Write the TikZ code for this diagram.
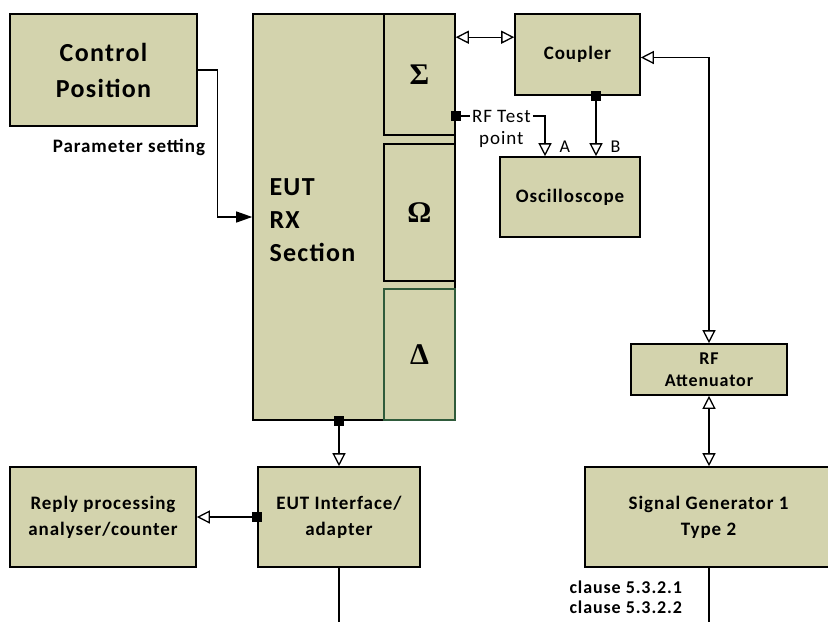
\documentclass[tikz,border=0pt]{standalone}
\usepackage{fontspec}
\setmainfont{Carlito}[LetterSpace=5]
\newfontfamily\symfont{Liberation Serif}
\usetikzlibrary{arrows.meta, positioning}
\definecolor{khaki}{HTML}{D3D3AD}
\definecolor{darkgreen}{HTML}{2F5B3B}

\begin{document}
\begin{tikzpicture}[x=1pt, y=-1pt,
    every node/.style={font=\bfseries\fontsize{19}{26}\selectfont},
    box/.style={rectangle, draw=black, line width=1.6pt, fill=khaki, inner sep=0pt, align=center},
    bigtext/.style={font=\bfseries\fontsize{26}{36}\selectfont},
    symtext/.style={font=\symfont\bfseries\fontsize{30}{32}\selectfont},
    sq/.style={rectangle, fill=black, minimum size=10pt, inner sep=0pt},
    conn/.style={line width=1.3pt},
    open/.style={line width=1.3pt, -{Triangle[open, length=13pt, width=13pt, fill=white]}},
    both/.style={line width=1.3pt, {Triangle[open, length=13pt, width=13pt, fill=white]}-{Triangle[open, length=13pt, width=13pt, fill=white]}},
    plain/.style={font=\fontsize{19}{22}\selectfont},
]
\useasboundingbox (0,0) rectangle (828,622);
% left column
\node[box, bigtext, minimum width=187pt, minimum height=112pt] (ctrl) at (103.5,70) {Control\\Position};
\node[font=\bfseries\fontsize{19}{22}\selectfont] (param) at (129,147) {Parameter setting};
% EUT receiver with its three sub-blocks
\node[box, minimum width=202pt, minimum height=406pt] (eut) at (354,217) {};
\node[anchor=west, align=left, font=\bfseries\fontsize{26}{33}\selectfont] (euttxt) at (266,220) {EUT\\RX\\Section};
\node[box, symtext, minimum width=71pt, minimum height=121pt] (sigma) at (419.5,74.5) {Σ};
\node[box, symtext, minimum width=71pt, minimum height=137pt] (omega) at (419.5,212.5) {Ω};
\node[box, symtext, draw=darkgreen, line width=1.1pt, minimum width=71pt, minimum height=131pt] (delta) at (419.5,354.5) {Δ};
% measurement side
\node[box, minimum width=125pt, minimum height=81pt] (cpl) at (577.5,54.5) {Coupler};
\node[box, minimum width=140pt, minimum height=80pt] (osc) at (570,197) {Oscilloscope};
\node[box, font=\bfseries\fontsize{18}{22}\selectfont, minimum width=156pt, minimum height=51pt] (att) at (709,369.5) {RF\\Attenuator};
\node[box, minimum width=247pt, minimum height=100pt] (sig) at (708.5,517) {Signal Generator 1\\Type 2};
\node[box, minimum width=162pt, minimum height=100pt] (ifc) at (339,517) {EUT Interface/\\adapter};
\node[box, minimum width=186pt, minimum height=100pt] (rep) at (103,517) {Reply processing\\analyser/counter};
\node[anchor=west, align=left, font=\bfseries\fontsize{18}{20}\selectfont] (clause) at (566,597) {clause 5.3.2.1\\clause 5.3.2.2};

% connectors
\draw[conn, -{Triangle[length=16pt, width=11pt]}] (ctrl.east) -- ++(20,0) |- (eut.west);
\draw[both] ([yshift=-24pt]sigma.north east) -- ([yshift=-24pt]cpl.north west);
\draw[both] ([yshift=-3pt]cpl.east) -| (att.north);
\node[sq] (tp) at (sigma.east |- 0,116) {};
\node[plain, anchor=west, inner sep=2pt] (tplbl) at ([xshift=14pt]tp.center) {RF Test};
\node[plain, below=4pt of tplbl] (tplbl2) {point};
\draw[conn] (tp.center) -- (tplbl.west);
\draw[open] (tplbl.east) -| ([xshift=-25pt]osc.north);
\node[plain, font=\fontsize{18}{20}\selectfont, anchor=west] (alab) at (556,147) {A};
\node[sq] (cb) at ([xshift=18.5pt]cpl.south) {};
\draw[open] (cb.center) -- (cb.center |- osc.north);
\node[plain, font=\fontsize{18}{20}\selectfont, anchor=west] (blab) at (607,147) {B};
\node[sq] (eb) at (ifc.north |- eut.south) {};
\draw[open] (eb.center) -- (ifc.north);
\node[sq] (iw) at (ifc.west) {};
\draw[open] (iw.center) -- (rep.east);
\coordinate (ifcout) at (ifc.south |- 0,622);
\draw[conn] (ifc.south) -- (ifcout);
\draw[both] (att.south) -- (att.south |- sig.north);
\coordinate (sigout) at (att.south |- 0,622);
\draw[conn] (att.south |- sig.south) -- (sigout);
\end{tikzpicture}
\end{document}
